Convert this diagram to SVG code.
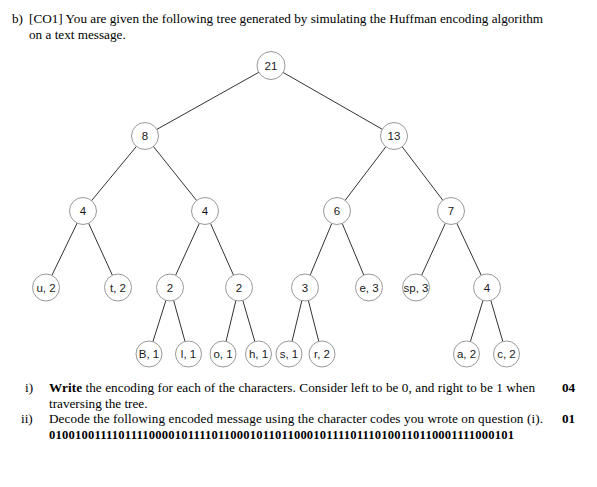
<svg xmlns="http://www.w3.org/2000/svg" width="597" height="487" viewBox="0 0 597 487">
<style>
.t{font-family:"Liberation Serif","Times New Roman",serif;font-size:13.2px;fill:#000}
.b{font-weight:bold}
.bin{font-family:"Liberation Serif","Times New Roman",serif;font-size:12.6px;font-weight:bold;fill:#000}
.n circle{fill:#fff;stroke:#999;stroke-width:1}
.n text{font-family:"Liberation Sans",Arial,sans-serif;font-size:11.5px;fill:#1a1a1a;text-anchor:middle}
#edges line{stroke:#333;stroke-width:1}
</style>
<rect width="597" height="487" fill="#fff"/>
<text class="t" x="12" y="23.3">b)</text>
<text class="t" x="29" y="23.3" textLength="514" lengthAdjust="spacing">[CO1] You are given the following tree generated by simulating the Huffman encoding algorithm</text>
<text class="t" x="29" y="39">on a text message.</text>
<g id="edges">
<line x1="271" y1="65.5" x2="145" y2="136"/>
<line x1="271" y1="65.5" x2="394" y2="136"/>
<line x1="145" y1="136" x2="83" y2="211"/>
<line x1="145" y1="136" x2="205" y2="211"/>
<line x1="394" y1="136" x2="337" y2="211"/>
<line x1="394" y1="136" x2="451" y2="211"/>
<line x1="83" y1="211" x2="46" y2="287.5"/>
<line x1="83" y1="211" x2="118" y2="287.5"/>
<line x1="205" y1="211" x2="170" y2="287.5"/>
<line x1="205" y1="211" x2="239" y2="287.5"/>
<line x1="337" y1="211" x2="305" y2="287.5"/>
<line x1="337" y1="211" x2="369" y2="287.5"/>
<line x1="451" y1="211" x2="416" y2="287.5"/>
<line x1="451" y1="211" x2="487" y2="287.5"/>
<line x1="170" y1="287.5" x2="149" y2="354"/>
<line x1="170" y1="287.5" x2="188.5" y2="354"/>
<line x1="239" y1="287.5" x2="223" y2="354"/>
<line x1="239" y1="287.5" x2="258.5" y2="354"/>
<line x1="305" y1="287.5" x2="289" y2="354"/>
<line x1="305" y1="287.5" x2="322" y2="354"/>
<line x1="487" y1="287.5" x2="466.5" y2="354"/>
<line x1="487" y1="287.5" x2="506.5" y2="354"/>
</g>
<g id="n21" class="n"><circle cx="271" cy="65.5" r="14"/><text x="271" y="69.5">21</text></g>
<g id="n8" class="n"><circle cx="145" cy="136" r="13.5"/><text x="145" y="140">8</text></g>
<g id="n13" class="n"><circle cx="394" cy="136" r="13.5"/><text x="394" y="140">13</text></g>
<g id="n4a" class="n"><circle cx="83" cy="211" r="13.5"/><text x="83" y="215">4</text></g>
<g id="n4b" class="n"><circle cx="205" cy="211" r="13.5"/><text x="205" y="215">4</text></g>
<g id="n6" class="n"><circle cx="337" cy="211" r="13.5"/><text x="337" y="215">6</text></g>
<g id="n7" class="n"><circle cx="451" cy="211" r="13.5"/><text x="451" y="215">7</text></g>
<g id="nu" class="n"><circle cx="46" cy="287.5" r="13.5"/><text x="46" y="291.5">u, 2</text></g>
<g id="nt" class="n"><circle cx="118" cy="287.5" r="13.5"/><text x="118" y="291.5">t, 2</text></g>
<g id="n2a" class="n"><circle cx="170" cy="287.5" r="13.5"/><text x="170" y="291.5">2</text></g>
<g id="n2b" class="n"><circle cx="239" cy="287.5" r="13.5"/><text x="239" y="291.5">2</text></g>
<g id="n3" class="n"><circle cx="305" cy="287.5" r="13.5"/><text x="305" y="291.5">3</text></g>
<g id="ne" class="n"><circle cx="369" cy="287.5" r="13.5"/><text x="369" y="291.5">e, 3</text></g>
<g id="nsp" class="n"><circle cx="416" cy="287.5" r="13.5"/><text x="416" y="291.5">sp, 3</text></g>
<g id="n4c" class="n"><circle cx="487" cy="287.5" r="13.5"/><text x="487" y="291.5">4</text></g>
<g id="nB" class="n"><circle cx="149" cy="354" r="13"/><text x="149" y="358">B, 1</text></g>
<g id="nl" class="n"><circle cx="188.5" cy="354" r="13"/><text x="188.5" y="358">l, 1</text></g>
<g id="no" class="n"><circle cx="223" cy="354" r="13"/><text x="223" y="358">o, 1</text></g>
<g id="nh" class="n"><circle cx="258.5" cy="354" r="13"/><text x="258.5" y="358">h, 1</text></g>
<g id="ns" class="n"><circle cx="289" cy="354" r="13"/><text x="289" y="358">s, 1</text></g>
<g id="nr" class="n"><circle cx="322" cy="354" r="13"/><text x="322" y="358">r, 2</text></g>
<g id="na" class="n"><circle cx="466.5" cy="354" r="13"/><text x="466.5" y="358">a, 2</text></g>
<g id="nc" class="n"><circle cx="506.5" cy="354" r="13"/><text x="506.5" y="358">c, 2</text></g>
<text class="t" x="25" y="392">i)</text>
<text class="t" x="49" y="392" textLength="486" lengthAdjust="spacing"><tspan class="b">Write</tspan> the encoding for each of the characters. Consider left to be 0, and right to be 1 when</text>
<text class="t b" x="562" y="392">04</text>
<text class="t" x="49" y="407.5">traversing the tree.</text>
<text class="t" x="21" y="423">ii)</text>
<text class="t" x="49" y="423" textLength="494" lengthAdjust="spacing">Decode the following encoded message using the character codes you wrote on question (i).</text>
<text class="t b" x="562" y="423">01</text>
<text class="bin" x="49" y="438.5" textLength="465" lengthAdjust="spacing">01001001111011110000101111011000101101100010111101110100110110001111000101</text>
</svg>
